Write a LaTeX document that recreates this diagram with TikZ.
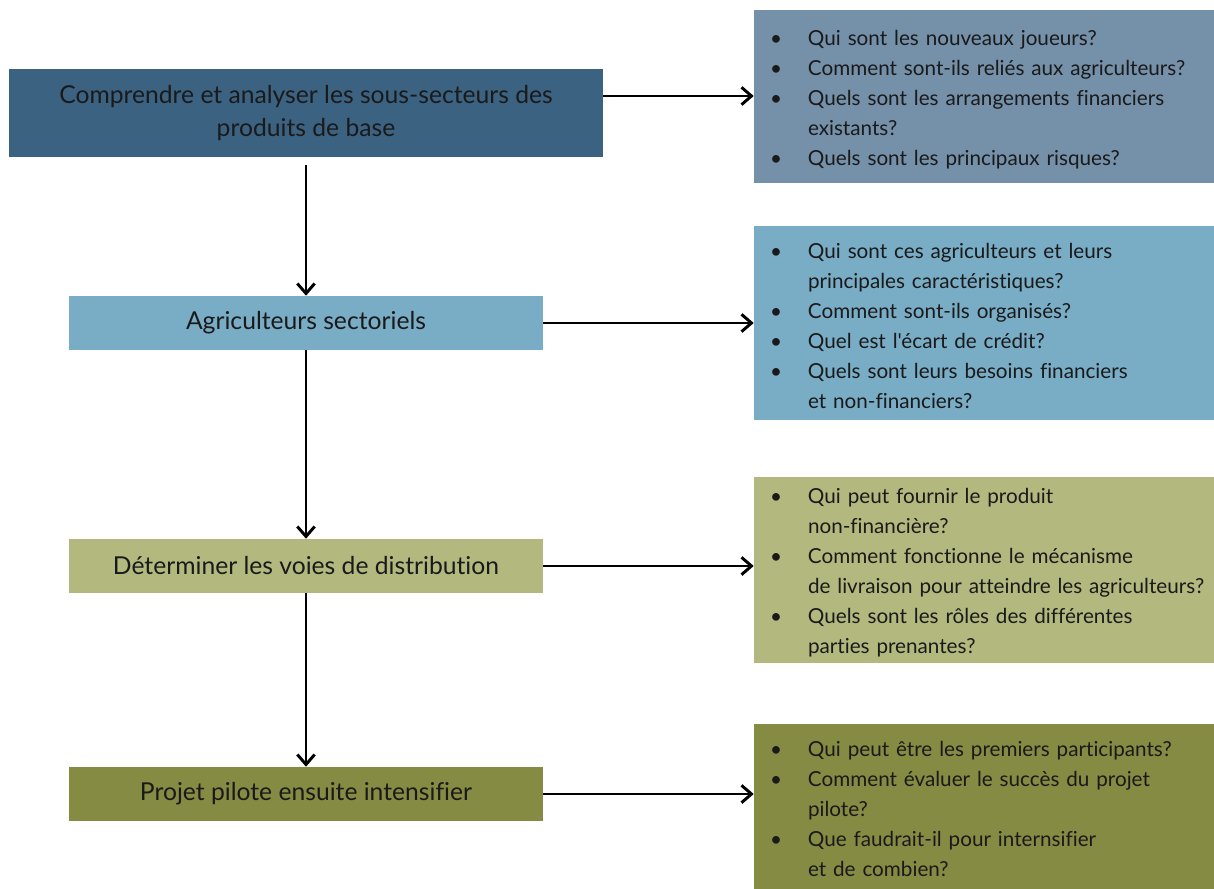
\documentclass[tikz,border=0pt]{standalone}
\usepackage{fontspec}
\setmainfont{Lato}[Ligatures={TeXOff,NoCommon}]
\usetikzlibrary{arrows.meta,positioning}
\definecolor{Steel}{HTML}{3C6282}
\definecolor{Slate}{HTML}{7590A9}
\definecolor{Sky}{HTML}{79ACC5}
\definecolor{Sage}{HTML}{B3B97E}
\definecolor{Olive}{HTML}{858B42}
\definecolor{Ink}{HTML}{1A1A1A}
\newcommand{\qline}[1]{\par\noindent\llap{\makebox[28.5pt][l]{\textbullet}}#1}
\begin{document}
\begin{tikzpicture}[x=0.75pt,y=-0.75pt,
  stage/.style={rectangle,inner sep=0pt,minimum width=355.5pt,minimum height=40.5pt,align=center,text=Ink,font=\fontsize{18.5}{24.75}\selectfont},
  qbox/.style={rectangle,inner sep=0pt,minimum width=345pt},
  questions/.style={rectangle,inner sep=0pt,text width=345pt,align=left,text=Ink,font=\fontsize{15.5}{22.5}\selectfont},
  flow/.style={line width=2.2pt,-{Straight Barb[length=7.5pt,width=13pt]}}]
  \useasboundingbox (0,0) rectangle (1214,889);
  \node[stage,fill=Steel,minimum width=445.5pt,minimum height=66pt] (base) at (306,113) {Comprendre et analyser les sous-secteurs des\\produits de base};
  \node[stage,fill=Sky] (farmers) at (306,323) {Agriculteurs sectoriels};
  \node[stage,fill=Sage] (channels) at (306,566) {Déterminer les voies de distribution};
  \node[stage,fill=Olive] (pilot) at (306,794) {Projet pilote ensuite intensifier};
  \node[qbox,fill=Slate,minimum height=129.75pt] (baseq) at (984,96.5) {};
  \node[qbox,fill=Sky,minimum height=145.5pt] (farmersq) at (984,323) {};
  \node[qbox,fill=Sage,minimum height=139.5pt] (channelsq) at (984,570) {};
  \node[qbox,fill=Olive,minimum height=123.75pt] (pilotq) at (984,806.5) {};
  \node[questions] (baseqtext) at ([yshift=3.5pt]baseq.center) {\leftskip=40.5pt
    \qline{Qui sont les nouveaux joueurs?}
    \qline{\mbox{Comment sont-ils reliés aux agriculteurs?}}
    \qline{Quels sont les arrangements financiers\newline existants?}
    \qline{Quels sont les principaux risques?}\par};
  \node[questions] (farmersqtext) at ([yshift=3.5pt]farmersq.center) {\leftskip=40.5pt
    \qline{Qui sont ces agriculteurs et leurs\newline principales caractéristiques?}
    \qline{Comment sont-ils organisés?}
    \qline{Quel est l'écart de crédit?}
    \qline{Quels sont leurs besoins financiers\newline et non-financiers?}\par};
  \node[questions] (channelsqtext) at ([yshift=3.5pt]channelsq.center) {\leftskip=40.5pt
    \qline{Qui peut fournir le produit\newline non-financière?}
    \qline{Comment fonctionne le mécanisme\newline \mbox{de livraison pour atteindre les agriculteurs?}}
    \qline{Quels sont les rôles des différentes\newline parties prenantes?}\par};
  \node[questions] (pilotqtext) at ([yshift=3.5pt]pilotq.center) {\leftskip=40.5pt
    \qline{\mbox{Qui peut être les premiers participants?}}
    \qline{Comment évaluer le succès du projet\newline pilote?}
    \qline{Que faudrait-il pour internsifier\newline et de combien?}\par};
  \draw[flow] ([yshift=12.75pt]base.east) -- ([yshift=12.75pt]base.east -| baseq.west);
  \draw[flow] (farmers.east) -- (farmers.east -| farmersq.west);
  \draw[flow] (channels.east) -- (channels.east -| channelsq.west);
  \draw[flow] (pilot.east) -- (pilot.east -| pilotq.west);
  \draw[flow] ([yshift=-6pt]base.south) -- (farmers.north);
  \draw[flow] (farmers.south) -- (channels.north);
  \draw[flow] (channels.south) -- (pilot.north);
\end{tikzpicture}
\end{document}
